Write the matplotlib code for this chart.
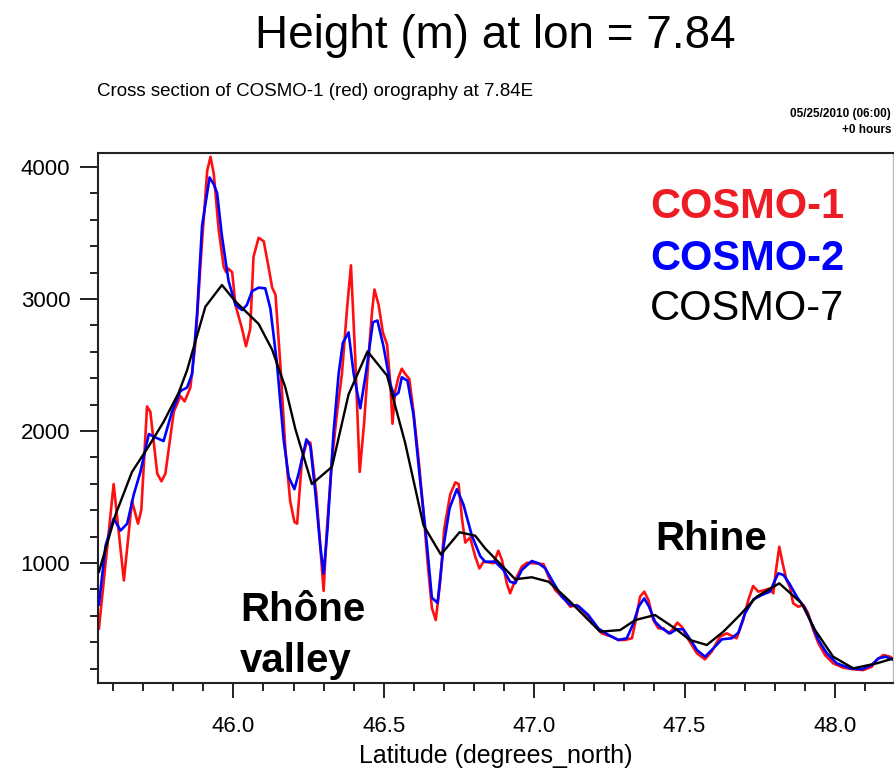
import matplotlib
matplotlib.use("Agg")
import matplotlib.pyplot as plt
from matplotlib.ticker import MultipleLocator, FormatStrFormatter

plt.rcParams['font.family'] = ['Liberation Sans', 'DejaVu Sans']

# COSMO-1 (red) orography along lon = 7.84
lat1 = [45.553, 45.602, 45.636, 45.663, 45.683, 45.694, 45.713, 45.724, 45.747, 45.761,
        45.774, 45.802, 45.824, 45.838, 45.857, 45.874, 45.894, 45.913, 45.924, 45.935,
        45.951, 45.968, 45.976, 45.984, 45.996, 46.007, 46.029, 46.042, 46.056, 46.067,
        46.084, 46.101, 46.117, 46.129, 46.140, 46.156, 46.173, 46.189, 46.203,
        46.212, 46.228, 46.245, 46.256, 46.276, 46.289, 46.300, 46.311, 46.328, 46.345,
        46.361, 46.378, 46.391, 46.405, 46.420, 46.435, 46.453, 46.461, 46.469, 46.483,
        46.497, 46.511, 46.522, 46.529, 46.538, 46.549, 46.560, 46.571, 46.585, 46.599,
        46.616, 46.632, 46.646, 46.660, 46.673, 46.688, 46.701, 46.721, 46.738, 46.749,
        46.760, 46.771, 46.787, 46.804, 46.818, 46.832,
        46.865, 46.881, 46.893, 46.909, 46.920, 46.937, 46.959, 46.976, 46.998, 47.031,
        47.048, 47.070, 47.103, 47.120, 47.142, 47.159, 47.180, 47.203, 47.225, 47.258,
        47.280, 47.302, 47.325, 47.338, 47.352, 47.366, 47.380, 47.396, 47.413, 47.430,
        47.446, 47.459, 47.476, 47.491, 47.507,
        47.541, 47.568, 47.590, 47.618, 47.640, 47.673, 47.695, 47.712, 47.728, 47.745,
        47.767, 47.784, 47.795, 47.804, 47.815, 47.826, 47.839, 47.850, 47.861, 47.878,
        47.895, 47.911, 47.928, 47.945, 47.967, 47.994, 48.028, 48.061, 48.094, 48.122,
        48.139, 48.161, 48.183, 48.196]
h1 = [503, 1598, 868, 1470, 1298, 1403, 2186, 2146, 1677, 1619,
      1677, 2146, 2264, 2224, 2329, 2668, 3372, 3972, 4077, 3946,
      3529, 3242, 3203, 3229, 3203, 2955, 2773, 2642, 2773, 3320,
      3464, 3437, 3242, 3086, 3033, 2511, 1859, 1468, 1311,
      1298, 1781, 1924, 1911, 1520, 1129, 789, 1259, 1781, 2146,
      2433, 2929, 3255, 2564, 1690, 2069, 2668, 2903, 3072, 2955,
      2747, 2655, 2355, 2055, 2303, 2407, 2472, 2433, 2394, 2146,
      1781, 1390, 999, 659, 568, 868, 1259, 1520, 1611, 1598,
      1337, 1155, 1194, 1050, 959, 1011,
      998, 1093, 1023, 846, 770, 871, 972, 1002, 998, 992,
      896, 795, 720, 669, 682, 644, 593, 530, 467, 442,
      417, 417, 430, 568, 745, 783, 720, 568, 505, 505,
      467, 492, 548, 517, 442,
      316, 270, 328, 442, 467, 430, 568, 720, 826, 783,
      795, 808, 770, 947, 1123, 998, 871, 820, 695, 669,
      682, 619, 492, 392, 303, 240, 207, 195, 189, 214,
      265, 303, 290, 270]

# COSMO-2 (blue)
lat2 = [45.553, 45.575, 45.602, 45.625, 45.647, 45.669, 45.691, 45.719, 45.741, 45.768,
        45.796, 45.824, 45.846, 45.863, 45.879, 45.896, 45.921, 45.935, 45.946, 45.962,
        45.984, 46.007, 46.029, 46.045, 46.062, 46.084, 46.106, 46.123, 46.145, 46.167,
        46.184, 46.203,
        46.217, 46.243, 46.256, 46.272, 46.289, 46.300, 46.313, 46.333, 46.350, 46.364,
        46.383, 46.400, 46.422, 46.442, 46.464, 46.479, 46.499, 46.522, 46.535, 46.549,
        46.560, 46.579, 46.599, 46.621, 46.644, 46.660, 46.679, 46.699, 46.719, 46.743,
        46.765, 46.793, 46.821,
        46.837, 46.870, 46.898, 46.920, 46.937, 46.959, 46.992, 47.014, 47.037, 47.059,
        47.092, 47.120, 47.147, 47.180, 47.213, 47.247, 47.280, 47.308, 47.330, 47.347,
        47.366, 47.382, 47.402, 47.424, 47.452, 47.474, 47.496, 47.524,
        47.541, 47.568, 47.596, 47.624, 47.657, 47.679, 47.701, 47.729, 47.757, 47.784,
        47.801, 47.812, 47.829, 47.848, 47.873, 47.900, 47.922, 47.945, 47.973, 48.006,
        48.050, 48.089, 48.122, 48.144, 48.169, 48.196]
h2 = [686, 1129, 1337, 1246, 1298, 1520, 1690, 1977, 1951, 1924,
      2146, 2303, 2329, 2433, 2876, 3555, 3921, 3868, 3803, 3477,
      3137, 2955, 2916, 2955, 3059, 3086, 3081, 2929, 2511, 1937,
      1651, 1559,
      1677, 1937, 1886, 1546, 1129, 920, 1259, 1989, 2433, 2668,
      2747, 2433, 2172, 2459, 2824, 2837, 2642, 2355, 2264, 2290,
      2407, 2381, 2120, 1624, 1129, 737, 698, 1129, 1416, 1559,
      1442, 1207, 1051,
      1010, 1010, 947, 858, 846, 947, 1015, 998, 960, 871,
      745, 682, 674, 606, 505, 455, 417, 430, 543, 669,
      732, 669, 555, 505, 467, 498, 498, 404,
      341, 290, 354, 422, 430, 472, 619, 725, 758, 783,
      871, 922, 909, 846, 745, 657, 543, 417, 316, 240,
      202, 195, 227, 278, 290, 265]

# COSMO-7 (black)
lat7 = [45.553, 45.608, 45.663, 45.719, 45.768, 45.818, 45.846, 45.907, 45.962, 46.007,
        46.084, 46.129, 46.173, 46.206, 46.261, 46.328, 46.383, 46.446, 46.511, 46.571,
        46.632, 46.690, 46.752, 46.804, 46.837, 46.937, 46.992, 47.048, 47.114, 47.219,
        47.286, 47.336, 47.402, 47.468, 47.518, 47.574, 47.629, 47.684, 47.740, 47.815,
        47.889, 47.934, 47.994, 48.061, 48.139, 48.196]
h7 = [933, 1364, 1690, 1886, 2069, 2289, 2459, 2942, 3106, 2981,
      2811, 2616, 2329, 2016, 1598, 1729, 2277, 2603, 2420, 1911,
      1286, 1064, 1233, 1207, 1111, 877, 892, 858, 720, 480,
      492, 568, 606, 505, 417, 379, 480, 606, 745, 846,
      695, 492, 290, 202, 240, 278]

W, H = 894, 772
fig = plt.figure(figsize=(W / 100, H / 100), dpi=100)
ax = fig.add_axes([98 / W, 1 - 683 / H, 795 / W, 530 / H])

ax.plot(lat1, h1, color='#ff1010', lw=1.9, zorder=2)
ax.plot(lat2, h2, color='#0000ff', lw=1.9, zorder=3)
ax.plot(lat7, h7, color='black', lw=1.7, zorder=4)

ax.set_xlim(45.55, 48.193)
ax.set_ylim(91, 4106)

ax.xaxis.set_major_locator(MultipleLocator(0.5))
ax.xaxis.set_minor_locator(MultipleLocator(0.1))
ax.xaxis.set_major_formatter(FormatStrFormatter('%.1f'))
ax.yaxis.set_major_locator(MultipleLocator(1000))
ax.yaxis.set_minor_locator(MultipleLocator(200))

ax.tick_params(which='both', direction='out', top=False, right=False,
               color='#222222', width=1.4, labelsize=16)
ax.tick_params(axis='y', which='major', length=13, pad=7)
ax.tick_params(axis='y', which='minor', length=6)
ax.tick_params(axis='x', which='major', length=11, pad=13)
ax.tick_params(axis='x', which='minor', length=6)

for s in ['left', 'bottom', 'top']:
    ax.spines[s].set_linewidth(1.5)
    ax.spines[s].set_color('#222222')
ax.spines['right'].set_linewidth(1)
ax.spines['right'].set_color('#bbbbbb')

ax.set_xlabel('Latitude (degrees_north)', fontsize=18, labelpad=5)


def ftext(x, y, s, **kw):
    # place text using pixel coordinates of the 894x772 canvas
    fig.text(x / W, 1 - y / H, s, **kw)


ftext(495, 48, 'Height (m) at lon = 7.84', fontsize=33, ha='center', va='baseline')
ftext(97, 96, 'Cross section of COSMO-1 (red) orography at 7.84E',
      fontsize=13.5, ha='left', va='baseline')
ftext(891, 117, '05/25/2010 (06:00)', fontsize=8.5, fontweight='bold',
      ha='right', va='baseline')
ftext(891, 133, '+0 hours', fontsize=8.5, fontweight='bold', ha='right', va='baseline')

ftext(650, 218, 'COSMO-1', fontsize=30, fontweight='bold', color='#ee1c24', va='baseline')
ftext(650, 270, 'COSMO-2', fontsize=30, fontweight='bold', color='#0000ff', va='baseline')
ftext(650, 320, 'COSMO-7', fontsize=30, color='black', va='baseline')

ftext(240, 621, 'Rhône', fontsize=29, fontweight='bold', va='baseline')
ftext(240, 672, 'valley', fontsize=29, fontweight='bold', va='baseline')
ftext(655, 550, 'Rhine', fontsize=29, fontweight='bold', va='baseline')

fig.savefig('out.png', dpi=100)
